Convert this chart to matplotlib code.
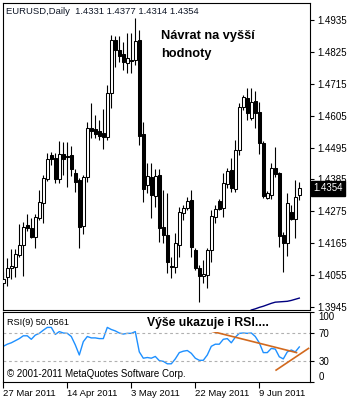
import numpy as np
import matplotlib.pyplot as plt

plt.rcParams['font.family'] = ['Liberation Sans', 'DejaVu Sans']

W, H = 355, 403

# daily EURUSD bars, 27 Mar 2011 .. 21 Jun 2011
opens = [1.4028, 1.4048, 1.4080, 1.4083, 1.4124, 1.4159, 1.4228, 1.4217, 1.4186, 1.4252,
         1.4304, 1.4386, 1.4469, 1.4459, 1.4386, 1.4473, 1.4466, 1.4469, 1.4407, 1.4383,
         1.4224, 1.4393, 1.4562, 1.4559, 1.4552, 1.4545, 1.4531, 1.4683, 1.4866, 1.4832,
         1.4818, 1.4787, 1.4797, 1.4797, 1.4866, 1.4542, 1.4366, 1.4393, 1.4328, 1.4400,
         1.4221, 1.4193, 1.4087, 1.4083, 1.4159, 1.4269, 1.4286, 1.4314, 1.4142, 1.4080,
         1.4052, 1.4055, 1.4142, 1.4255, 1.4311, 1.4286, 1.4369, 1.4418, 1.4352, 1.4487,
         1.4635, 1.4666, 1.4597, 1.4656, 1.4618, 1.4511, 1.4321, 1.4331, 1.4424, 1.4407,
         1.4193, 1.4166, 1.4273, 1.4248, 1.4331]
highs = [1.4066, 1.4114, 1.4145, 1.4145, 1.4231, 1.4238, 1.4266, 1.4252, 1.4266, 1.4349,
         1.4400, 1.4476, 1.4480, 1.4476, 1.4518, 1.4514, 1.4514, 1.4500, 1.4421, 1.4390,
         1.4400, 1.4583, 1.4649, 1.4607, 1.4590, 1.4628, 1.4711, 1.4883, 1.4880, 1.4880,
         1.4859, 1.4890, 1.4890, 1.4942, 1.4901, 1.4583, 1.4442, 1.4442, 1.4421, 1.4421,
         1.4349, 1.4338, 1.4117, 1.4200, 1.4290, 1.4297, 1.4324, 1.4349, 1.4148, 1.4090,
         1.4107, 1.4148, 1.4280, 1.4297, 1.4318, 1.4407, 1.4424, 1.4459, 1.4521, 1.4649,
         1.4676, 1.4700, 1.4700, 1.4690, 1.4652, 1.4518, 1.4345, 1.4442, 1.4497, 1.4411,
         1.4204, 1.4338, 1.4297, 1.4383, 1.4377]
lows = [1.4014, 1.4017, 1.4041, 1.4048, 1.4117, 1.4052, 1.4207, 1.4183, 1.4148, 1.4245,
        1.4235, 1.4380, 1.4435, 1.4373, 1.4373, 1.4400, 1.4359, 1.4397, 1.4342, 1.4148,
        1.4197, 1.4376, 1.4528, 1.4528, 1.4521, 1.4490, 1.4521, 1.4631, 1.4773, 1.4790,
        1.4763, 1.4752, 1.4752, 1.4780, 1.4504, 1.4307, 1.4338, 1.4252, 1.4290, 1.4169,
        1.4166, 1.4062, 1.4045, 1.4062, 1.4117, 1.4245, 1.4280, 1.4117, 1.4073, 1.3962,
        1.4028, 1.4010, 1.4100, 1.4235, 1.4280, 1.4255, 1.4355, 1.4342, 1.4342, 1.4469,
        1.4625, 1.4590, 1.4590, 1.4562, 1.4473, 1.4321, 1.4318, 1.4318, 1.4393, 1.4152,
        1.4066, 1.4121, 1.4245, 1.4183, 1.4314]
closes = [1.4041, 1.4080, 1.4087, 1.4128, 1.4159, 1.4221, 1.4217, 1.4186, 1.4255, 1.4307,
          1.4390, 1.4455, 1.4455, 1.4386, 1.4473, 1.4455, 1.4462, 1.4421, 1.4376, 1.4221,
          1.4393, 1.4562, 1.4552, 1.4542, 1.4535, 1.4531, 1.4683, 1.4866, 1.4832, 1.4811,
          1.4790, 1.4804, 1.4795, 1.4863, 1.4535, 1.4352, 1.4397, 1.4331, 1.4397, 1.4217,
          1.4193, 1.4100, 1.4083, 1.4166, 1.4273, 1.4286, 1.4311, 1.4152, 1.4080, 1.4052,
          1.4059, 1.4142, 1.4259, 1.4283, 1.4283, 1.4373, 1.4414, 1.4355, 1.4487, 1.4635,
          1.4669, 1.4614, 1.4652, 1.4614, 1.4511, 1.4328, 1.4338, 1.4424, 1.4404, 1.4190,
          1.4166, 1.4304, 1.4248, 1.4324, 1.4354]

rsi = [51, 54, 56, 59, 62, 66, 66, 61, 67, 69.5,
       74, 78, 78, 68, 72, 70, 69.5, 65, 53, 38.6,
       57.6, 65, 63, 63, 62, 62, 78, 75, 73, 70,
       68.5, 69.5, 69.5, 72, 43, 34, 35, 34, 36.5, 30.5,
       29.5, 26, 26, 33, 42, 44, 45, 41, 34, 31,
       31, 38.6, 51, 54, 54, 61, 62, 56, 64, 69.5,
       70, 69.5, 70, 65, 56, 42, 42, 48, 47, 36,
       33, 43, 45.7, 43, 50.06]

ma_bars = list(range(62, 75))
ma_vals = [1.3935, 1.3939, 1.3944, 1.3948, 1.3953, 1.3958, 1.3962, 1.3963, 1.3964,
           1.3965, 1.3968, 1.3972, 1.3976]

date_bars = [0, 16, 32, 48, 64]
date_labels = ["27 Mar 2011", "14 Apr 2011", "3 May 2011", "22 May 2011", "9 Jun 2011"]
price_ticks = [1.4935, 1.4825, 1.4715, 1.4605, 1.4495, 1.4385, 1.4275, 1.4165, 1.4055, 1.3945]
rsi_ticks = [100, 70, 30, 0]
last_price = 1.4354

# hand drawn trend lines on the RSI window (bar index, RSI value)
trend_down_x, trend_down_y = [51.7, 73.3], [73, 42]
trend_up_x, trend_up_y = [68.2, 76.3], [17, 48]


def rect(l, t, r, b):
    return [l / W, 1 - b / H, (r - l) / W, (b - t) / H]


def fx(x):
    return x / W


def fy(y):
    return 1 - y / H


fig = plt.figure(figsize=(W / 100, H / 100), dpi=100)
ax = fig.add_axes(rect(3, 3, 310, 310))
ax2 = fig.add_axes(rect(3, 312, 310, 382))

x = np.arange(len(opens))
o, h, l, c = map(np.array, (opens, highs, lows, closes))
up = c >= o

# candles
ax.vlines(x, l, h, color='black', lw=0.8, zorder=2)
ax.bar(x, np.maximum(np.abs(c - o), 0.00005), bottom=np.minimum(o, c), width=0.75,
       color=np.where(up, 'white', 'black'), edgecolor='black', linewidth=0.75, zorder=3)
ax.plot(ma_bars, ma_vals, color='#000080', lw=1)

ax.set_xlim(-0.075, 76.675)
ax.set_ylim(1.3935, 1.49936)
ax.set_xticks([])
ax.yaxis.tick_right()
ax.set_yticks(price_ticks, labels=[f"{p:.4f}" for p in price_ticks])
ax.tick_params(axis='y', length=3, width=0.8, pad=2, labelsize=7)
for s in ax.spines.values():
    s.set_linewidth(0.8)

ax.annotate(f"{last_price:.4f}", xy=(1, last_price), xycoords=('axes fraction', 'data'),
            xytext=(2.2, 0), textcoords='offset points', ha='left', va='center',
            color='white', fontsize=7, annotation_clip=False,
            bbox=dict(boxstyle='square,pad=0.22', fc='black', ec='black'))

# RSI window
ax2.plot(x, rsi, color='#1E90FF', lw=1)
for lev in (70, 30):
    ax2.axhline(lev, color='#b0b0b0', lw=0.8, dashes=(2.5, 2.5))
ax2.plot(trend_down_x, trend_down_y, color='#D2691E', lw=1.2)
ax2.plot(trend_up_x, trend_up_y, color='#D2691E', lw=1.2)

ax2.set_xlim(-0.075, 76.675)
ax2.set_ylim(0, 100)
ax2.yaxis.tick_right()
ax2.set_yticks(rsi_ticks, labels=[str(v) for v in rsi_ticks])
ax2.tick_params(axis='y', length=3, width=0.8, pad=3, labelsize=7)
ylabs = ax2.get_yticklabels()
ylabs[0].set_va('top')
ylabs[-1].set_va('bottom')
ax2.set_xticks(date_bars, labels=date_labels)
ax2.tick_params(axis='x', length=4, width=0.8, pad=1, labelsize=6.8)
for lab in ax2.get_xticklabels():
    lab.set_ha('left')
for s in ax2.spines.values():
    s.set_linewidth(0.8)

# texts
fig.text(fx(6), fy(12), "EURUSD,Daily  1.4331 1.4377 1.4314 1.4354",
         fontsize=6.8, va='center', ha='left', color='#101828')
fig.text(fx(161), fy(39), "Návrat na vyšší", fontsize=9.2, fontweight='bold',
         va='baseline', ha='left')
fig.text(fx(161), fy(57), "hodnoty", fontsize=9.2, fontweight='bold',
         va='baseline', ha='left')
fig.text(fx(147), fy(326), "Výše ukazuje i RSI....", fontsize=8.8, fontweight='bold',
         va='baseline', ha='left',
         bbox=dict(boxstyle='square,pad=0.25', fc='white', ec='none'))
fig.text(fx(7), fy(322.5), "RSI(9) 50.0561", fontsize=6.6, va='center', ha='left')
fig.text(fx(7), fy(374), "© 2001-2011 MetaQuotes Software Corp.", fontsize=7,
         va='center', ha='left')

fig.savefig("out.png", dpi=100)
